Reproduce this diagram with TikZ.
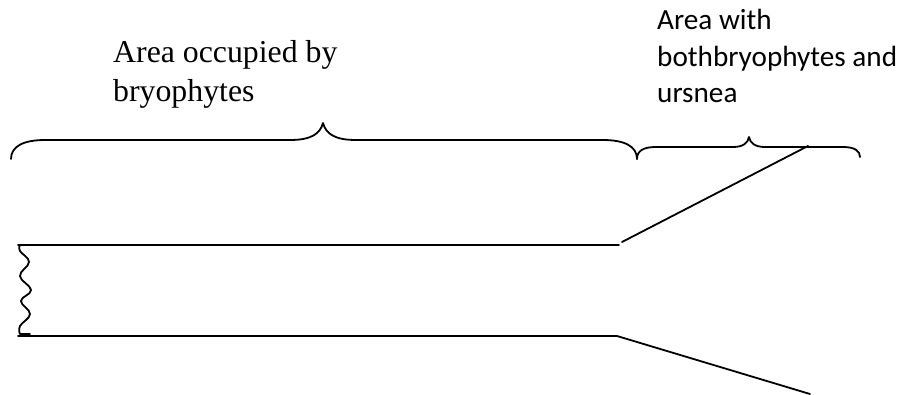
\documentclass[tikz,border=0pt]{standalone}
\usepackage{fontspec}
\setmainfont{Liberation Serif}
\newfontfamily\calibfont{Carlito}
\begin{document}
\begin{tikzpicture}[x=1pt,y=-1pt,
  ink/.style={line width=1.8pt,line cap=round,line join=round},
  serifline/.style={inner sep=0pt,anchor=base west,font=\fontsize{31.8}{39}\selectfont},
  sansline/.style={inner sep=0pt,anchor=base west,font=\calibfont\fontsize{29.2}{36}\selectfont}]
\useasboundingbox (0,0) rectangle (902,395);

% labels
\node[serifline] (occA) at (113,63) {Area occupied by};
\node[serifline] (occB) at (113,102) {bryophytes};
\node[sansline] (bothA) at (657,30) {Area with};
\node[sansline] (bothB) at (657,67) {bothbryophytes and};
\node[sansline] (bothC) at (657,103) {ursnea};

% key points of the shape
\coordinate (ul) at (18,245);
\coordinate (ur) at (619,245);
\coordinate (dl) at (18,336);
\coordinate (dr) at (617,336);
\coordinate (upstart) at (622,242);
\coordinate (uptip) at (808,146);
\coordinate (downtip) at (810,394);

% big brace over the bryophyte zone
\draw[ink] (11,159) .. controls (11,146) and (24,140) .. (45,140) -- (290,140)
  .. controls (311,140) and (320,134) .. (323,123)
  .. controls (326,134) and (335,140) .. (356,140) -- (603,140)
  .. controls (624,140) and (637,146) .. (637,159);

% small brace over the mixed zone
\draw[ink] (637,159) .. controls (637,151) and (643,147) .. (656,147) -- (733,147)
  .. controls (743,147) and (748,143) .. (749,137)
  .. controls (750,143) and (755,147) .. (765,147) -- (843,147)
  .. controls (855,147) and (860,151) .. (860,157);

% branch outline
\draw[ink] (ul) -- (ur);
\draw[ink] (upstart) -- (uptip);
\draw[ink] (dl) -- (dr) -- (downtip);

% wavy broken end
\draw[ink] plot[smooth,tension=0.7] coordinates
  {(20,245) (20,251) (29,262) (20,276) (31,290) (21,301) (30,314) (20,326) (20,334)}
  -- (30,334);
\end{tikzpicture}
\end{document}
